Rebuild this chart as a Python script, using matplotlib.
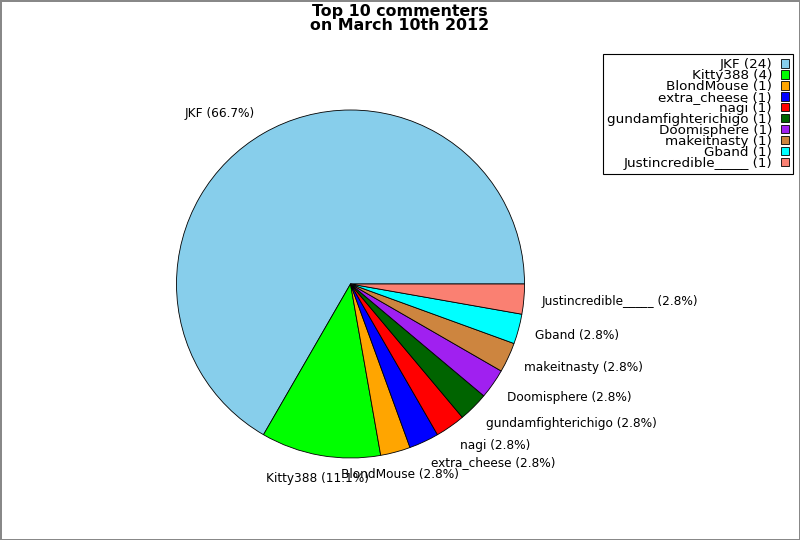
import matplotlib
matplotlib.use("Agg")
import matplotlib.pyplot as plt

names = ["JKF", "Kitty388", "BlondMouse", "extra_cheese", "nagi",
         "gundamfighterichigo", "Doomisphere", "makeitnasty", "Gband",
         "Justincredible_____"]
counts = [24, 4, 1, 1, 1, 1, 1, 1, 1, 1]
colors = ["#87CEEB", "#00FF00", "#FFA500", "#0000FF", "#FF0000",
          "#006400", "#A020F0", "#CD853F", "#00FFFF", "#FA8072"]
title = "Top 10 commenters\non March 10th 2012"

total = sum(counts)
pie_labels = [f"{n} ({c / total * 100:.1f}%)" for n, c in zip(names, counts)]
legend_labels = [f"{n} ({c})" for n, c in zip(names, counts)]

fig = plt.figure(figsize=(8, 5.4), dpi=100)
fig.patch.set_edgecolor("#888888")
fig.patch.set_linewidth(2)

R = 174.0
cx, cy = 350.5, 540 - 284.0
half = 200
ax = fig.add_axes([(cx - half) / 800, (cy - half) / 540, 2 * half / 800, 2 * half / 540])
wedges, texts = ax.pie(counts, labels=pie_labels, colors=colors, startangle=0,
                       counterclock=True, labeldistance=1.1,
                       wedgeprops=dict(edgecolor="black", linewidth=0.6),
                       textprops=dict(fontsize=8.7))
lim = half / R
ax.set_xlim(-lim, lim)
ax.set_ylim(-lim, lim)
ax.set_aspect("equal")
for t in texts:
    t.set_clip_on(False)
    x, y = t.get_position()
    t.set_position((x, y * 1.03))
texts[1].set_ha("center")
texts[2].set_ha("center")

fig.text(0.5, 0.993, title, ha="center", va="top", fontsize=11.4,
         fontweight="bold", linespacing=0.9)

leg = fig.legend(wedges, legend_labels, loc="upper right",
                 bbox_to_anchor=(793 / 800, 1 - 54 / 540), borderaxespad=0,
                 markerfirst=False, fontsize=9.7, labelspacing=-0.15,
                 handlelength=0.6, handleheight=0.6, handletextpad=0.65,
                 fancybox=False, framealpha=1, edgecolor="black",
                 borderpad=0.3)
leg.get_frame().set_linewidth(0.8)

fig.savefig("out.png", dpi=100)
